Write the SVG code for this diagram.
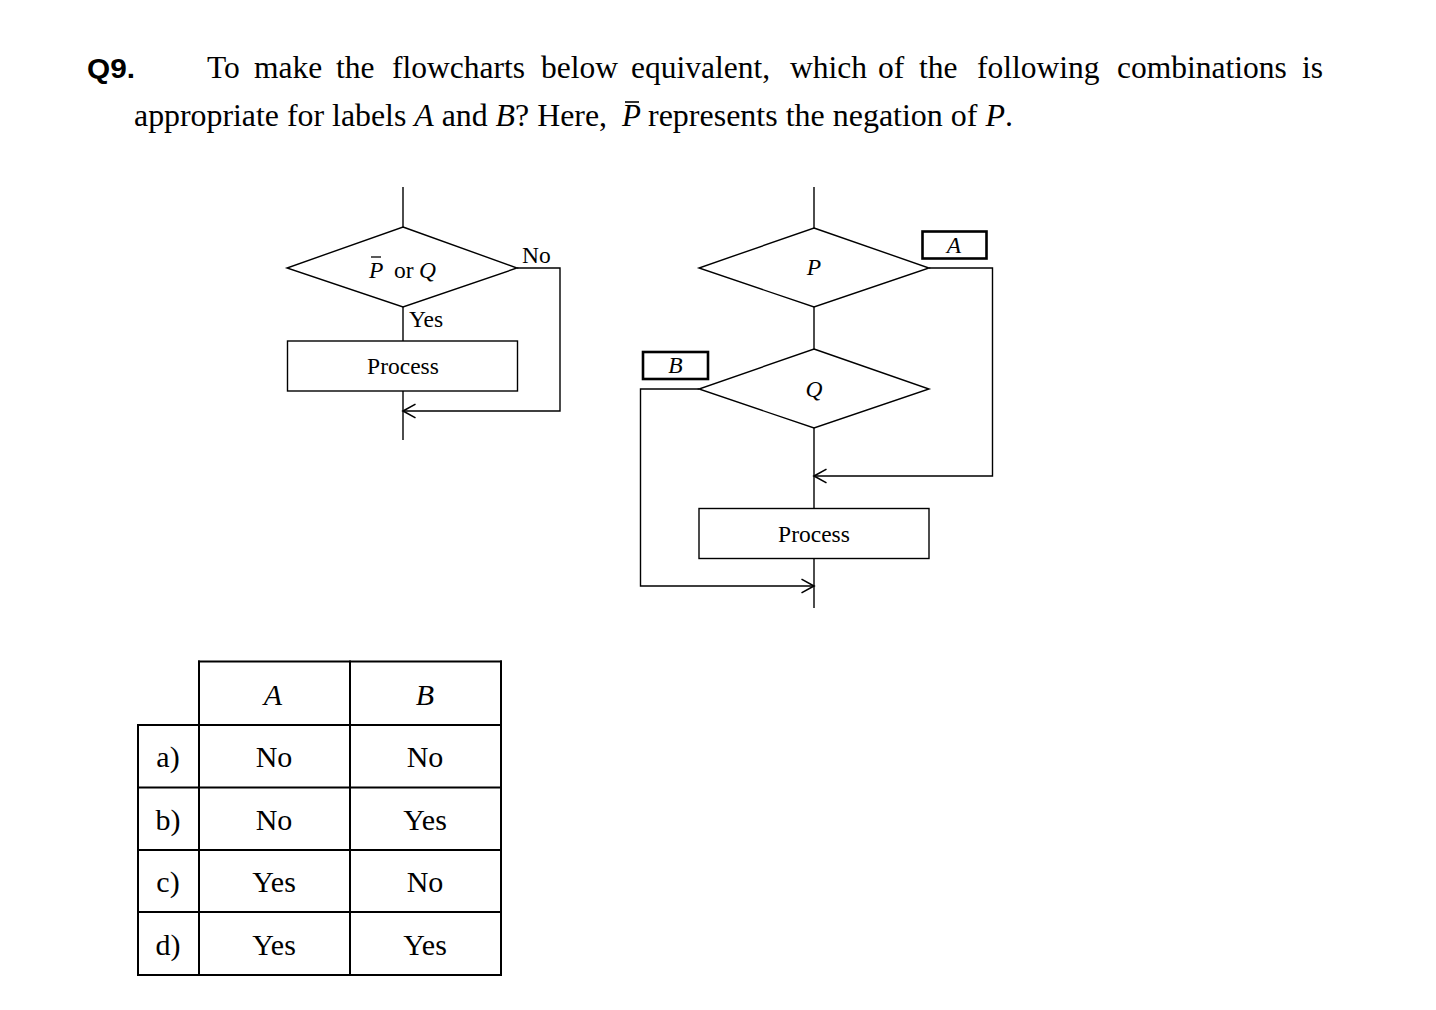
<svg xmlns="http://www.w3.org/2000/svg" width="1436" height="1010" viewBox="0 0 1436 1010">
<style>
.t{font-family:"Liberation Serif","Times New Roman",serif;fill:#000}
.i{font-style:italic}
.ln{stroke:#000;stroke-width:1.4;fill:none}
.shape{stroke:#000;stroke-width:1.4;fill:#fff}
.lbl{stroke:#000;stroke-width:2.6;fill:#fff}
.tb{stroke:#000;stroke-width:2;fill:none}
</style>
<defs>
<marker id="arr" markerUnits="userSpaceOnUse" markerWidth="20" markerHeight="20" viewBox="-12 -8 14 16" refX="0" refY="0" orient="auto" overflow="visible">
<path d="M-10,-5.5 L0,0 L-10,5.5" fill="none" stroke="#000" stroke-width="1.3"/>
</marker>
</defs>
<rect width="1436" height="1010" fill="#fff"/>

<g id="title">
<text x="87" y="78" font-family="Liberation Sans,Arial,sans-serif" font-weight="bold" font-size="28" textLength="48" lengthAdjust="spacingAndGlyphs">Q9.</text>
<text class="t" y="78" font-size="31.5">
<tspan x="207">To</tspan><tspan x="254">make</tspan><tspan x="336">the</tspan><tspan x="392">flowcharts</tspan><tspan x="541">below</tspan><tspan x="631">equivalent,</tspan><tspan x="790">which</tspan><tspan x="878">of</tspan><tspan x="919">the</tspan><tspan x="977">following</tspan><tspan x="1117">combinations</tspan><tspan x="1302">is</tspan>
</text>
<text class="t" x="134" y="126" font-size="31" textLength="473" lengthAdjust="spacingAndGlyphs">appropriate for labels <tspan class="i">A</tspan> and <tspan class="i">B</tspan>? Here,</text>
<text class="t i" x="622" y="126" font-size="31">P</text>
<line x1="625" y1="102" x2="639" y2="102" stroke="#000" stroke-width="1.6"/>
<text class="t" x="648" y="126" font-size="31" textLength="365" lengthAdjust="spacingAndGlyphs">represents the negation of <tspan class="i">P</tspan>.</text>
</g>

<g id="connectors">
<line class="ln" x1="403" y1="187" x2="403" y2="227"/>
<line class="ln" x1="403" y1="307" x2="403" y2="341"/>
<line class="ln" x1="403" y1="391" x2="403" y2="440"/>
<polyline class="ln" points="517,268 560,268 560,411 403,411" marker-end="url(#arr)"/>
<line class="ln" x1="814" y1="187" x2="814" y2="228"/>
<line class="ln" x1="814" y1="307" x2="814" y2="349"/>
<line class="ln" x1="814" y1="428" x2="814" y2="508"/>
<line class="ln" x1="814" y1="558" x2="814" y2="608"/>
<polyline class="ln" points="929,268 992.5,268 992.5,476 814,476" marker-end="url(#arr)"/>
<polyline class="ln" points="699,389 640.5,389 640.5,586 814,586" marker-end="url(#arr)"/>
</g>

<g id="decision-left">
<polygon class="shape" points="403,227 517,268 403,307 287,268"/>
<text class="t i" x="369" y="278" font-size="23.5">P</text>
<text class="t" x="394" y="278" font-size="23.5">or</text>
<text class="t i" x="419" y="278" font-size="23.5">Q</text>
<line x1="371" y1="257" x2="381" y2="257" stroke="#000" stroke-width="1.3"/>
</g>
<g id="label-no">
<text class="t" x="522" y="263" font-size="23.5">No</text>
</g>
<g id="label-yes">
<text class="t" x="409" y="327" font-size="23.5">Yes</text>
</g>
<g id="process-left">
<rect class="shape" x="287.5" y="341" width="230" height="50"/>
<text class="t" x="403" y="374" font-size="23.5" text-anchor="middle">Process</text>
</g>

<g id="decision-p">
<polygon class="shape" points="814,228 929,268 814,307 699,268"/>
<text class="t i" x="814" y="275" font-size="23.5" text-anchor="middle">P</text>
</g>
<g id="label-a">
<rect class="lbl" x="922.5" y="231.5" width="64" height="27"/>
<text class="t i" x="954" y="252.5" font-size="23.5" text-anchor="middle">A</text>
</g>
<g id="decision-q">
<polygon class="shape" points="814,349 929,389 814,428 699,389"/>
<text class="t i" x="814" y="397" font-size="23.5" text-anchor="middle">Q</text>
</g>
<g id="label-b">
<rect class="lbl" x="643" y="352" width="65" height="27"/>
<text class="t i" x="675.5" y="373" font-size="23.5" text-anchor="middle">B</text>
</g>
<g id="process-right">
<rect class="shape" x="699" y="508.5" width="230" height="50"/>
<text class="t" x="814" y="542" font-size="23.5" text-anchor="middle">Process</text>
</g>

<g id="table">
<line class="tb" x1="198" y1="661.5" x2="502" y2="661.5"/>
<line class="tb" x1="137" y1="725" x2="502" y2="725"/>
<line class="tb" x1="137" y1="787.5" x2="502" y2="787.5"/>
<line class="tb" x1="137" y1="850" x2="502" y2="850"/>
<line class="tb" x1="137" y1="912" x2="502" y2="912"/>
<line class="tb" x1="137" y1="975" x2="502" y2="975"/>
<line class="tb" x1="138" y1="725" x2="138" y2="976"/>
<line class="tb" x1="199" y1="660.5" x2="199" y2="976"/>
<line class="tb" x1="350" y1="660.5" x2="350" y2="976"/>
<line class="tb" x1="501" y1="660.5" x2="501" y2="976"/>
<g font-size="30" text-anchor="middle" class="t">
<text class="t i" x="273" y="705">A</text>
<text class="t i" x="425" y="705">B</text>
<text class="t" x="168" y="767">a)</text>
<text class="t" x="274" y="767">No</text>
<text class="t" x="425" y="767">No</text>
<text class="t" x="168" y="830">b)</text>
<text class="t" x="274" y="830">No</text>
<text class="t" x="425" y="830">Yes</text>
<text class="t" x="168" y="892">c)</text>
<text class="t" x="274" y="892">Yes</text>
<text class="t" x="425" y="892">No</text>
<text class="t" x="168" y="955">d)</text>
<text class="t" x="274" y="955">Yes</text>
<text class="t" x="425" y="955">Yes</text>
</g>
</g>
</svg>
